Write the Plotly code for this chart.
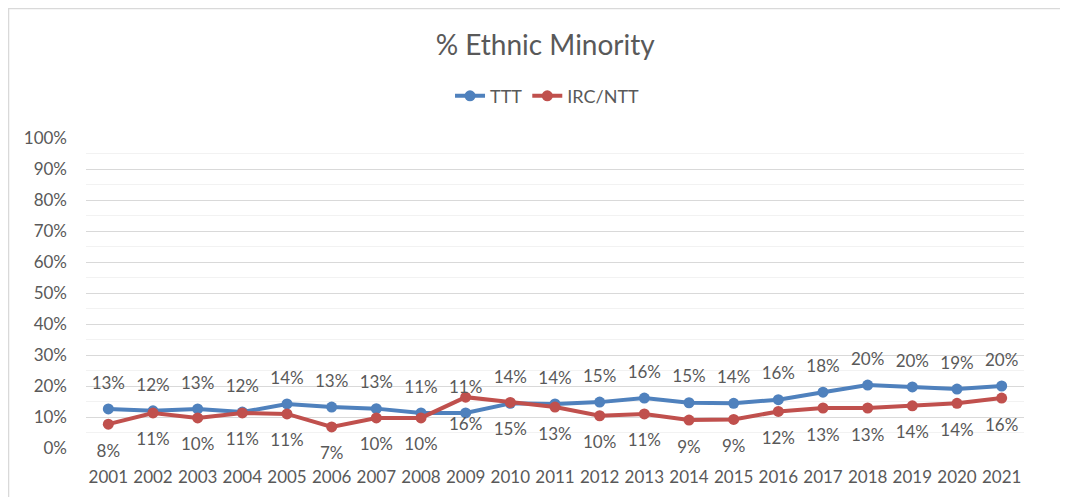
import plotly.graph_objects as go

years = [str(y) for y in range(2001, 2022)]
ttt = [0.126, 0.120, 0.126, 0.116, 0.142, 0.132, 0.127, 0.113, 0.113, 0.144, 0.142,
       0.148, 0.161, 0.146, 0.144, 0.156, 0.180, 0.203, 0.197, 0.190, 0.200]
irc = [0.077, 0.113, 0.097, 0.113, 0.110, 0.068, 0.097, 0.097, 0.164, 0.147, 0.132,
       0.104, 0.110, 0.090, 0.092, 0.118, 0.129, 0.129, 0.136, 0.144, 0.161]
y_ticks = [i / 10 for i in range(11)]

BLUE = "#4F81BD"
RED = "#C0504D"
INK = "#595959"
FONT = "Lato, sans-serif"

fig = go.Figure()
for name, vals, col in [("TTT", ttt, BLUE), ("IRC/NTT", irc, RED)]:
    fig.add_trace(go.Scatter(
        x=years, y=vals, name=name, mode="lines+markers",
        line=dict(color=col, width=4),
        marker=dict(color=col, size=11),
        hovertemplate="%{x}: %{y:.1%}<extra>" + name + "</extra>",
    ))

# data labels: TTT above the point, IRC/NTT below it.
# an invisible marker sets how far the label sits from the point
for vals, pos, gap in [(ttt, "top center", 24), (irc, "bottom center", 30)]:
    fig.add_trace(go.Scatter(
        x=years, y=vals, mode="markers+text", showlegend=False, hoverinfo="skip",
        marker=dict(size=gap, opacity=0),
        texttemplate="%{y:.0%}", textposition=pos, cliponaxis=False,
        textfont=dict(family=FONT, size=17, color=INK),
    ))

# light chart border (cropped on right and bottom like the source)
fig.add_shape(type="rect", xref="paper", yref="paper",
              x0=-0.0826, x1=1.2, y0=-0.3, y1=1.4177,
              line=dict(color="#D9D9D9", width=1.5), layer="below")

fig.update_layout(
    width=1068, height=497,
    margin=dict(l=78, r=52, t=130, b=57),
    paper_bgcolor="white", plot_bgcolor="white",
    font=dict(family=FONT, size=17, color=INK),
    title=dict(text="% Ethnic Minority", x=0.503, xanchor="center",
               y=1 - 37 / 497, yanchor="middle",
               font=dict(family=FONT, size=28, color=INK)),
    showlegend=True,
    legend=dict(orientation="h", x=0.4915, xanchor="center", y=1.135, yanchor="middle",
                font=dict(family=FONT, size=18, color=INK), bgcolor="rgba(0,0,0,0)"),
)
fig.update_xaxes(type="category", range=[-0.5, 20.5], showgrid=False, showline=False,
                 zeroline=False, ticks="outside", ticklen=0, ticklabelstandoff=14,
                 tickfont=dict(family=FONT, size=17, color=INK))
fig.update_yaxes(range=[0, 1], tickvals=y_ticks, tickformat=".0%",
                 gridcolor="#D9D9D9", gridwidth=1, zeroline=False, showline=False,
                 ticks="", ticklabelstandoff=18,
                 minor=dict(dtick=0.05, showgrid=True, gridcolor="#F2F2F2", gridwidth=1),
                 tickfont=dict(family=FONT, size=17, color=INK))

fig.write_html("out.html")
